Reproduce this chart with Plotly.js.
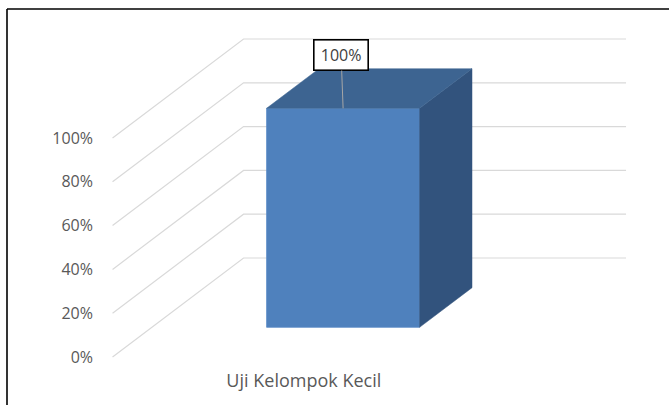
<!DOCTYPE html>
<html>
<head>
<meta charset="utf-8">
<script src="https://cdn.plot.ly/plotly-3.0.1.min.js"></script>
<style>
  html, body { margin: 0; padding: 0; background: #ffffff; }
  #chart { width: 669px; height: 405px; }
</style>
</head>
<body>
<div id="chart"></div>
<script>
// ---- data ----
const categories = ['Uji Kelompok Kecil'];
const values = [1.0];
const dataLabels = ['100%'];
const tickVals = [0, 0.2, 0.4, 0.6, 0.8, 1.0];
const tickLabels = ['0%', '20%', '40%', '60%', '80%', '100%'];

// ---- layout geometry (pixels) ----
const W = 669, H = 405;
const M = { l: 94, r: 0, t: 0, b: 37 };
const PX0 = 303.8, SX = 153;   // front-plane x of category 0, px per category unit
const PY0 = 357,   SY = 219;   // front-plane y of 0%, px per 100%
const DX = 131 / SX, DY = 99 / SY;   // full depth offset in axis units
const HALF_CAT = 1.25, HALF_BAR = 0.5, Z0 = 0.3, Z1 = 0.7;
const FONT = 'Open Sans, sans-serif';

const xRange = [(M.l - PX0) / SX, (W - M.r - PX0) / SX];
const yRange = [(PY0 - (H - M.b)) / SY, (PY0 - M.t) / SY];

function proj(x, y, z) { return [x + DX * z, y + DY * z]; }

// back wall + side wall gridlines as shapes below traces
const shapes = [];
tickVals.forEach(tv => {
  const a = proj(-HALF_CAT, tv, 0), b = proj(-HALF_CAT, tv, 1), c = proj(HALF_CAT, tv, 1);
  shapes.push({
    type: 'path', xref: 'x', yref: 'y', layer: 'below',
    path: `M ${a[0]},${a[1]} L ${b[0]},${b[1]} L ${c[0]},${c[1]}`,
    line: { color: '#d9d9d9', width: 1.2 }
  });
});

// chart frame (left and top edges visible)
const plotW = W - M.l - M.r, plotH = H - M.t - M.b;
const px2paperX = px => (px - M.l) / plotW;
const py2paperY = py => 1 - (py - M.t) / plotH;
shapes.push({ type: 'line', xref: 'paper', yref: 'paper', layer: 'above',
  x0: px2paperX(7), x1: px2paperX(680), y0: py2paperY(9), y1: py2paperY(9),
  line: { color: '#000000', width: 1.6 } });
shapes.push({ type: 'line', xref: 'paper', yref: 'paper', layer: 'above',
  x0: px2paperX(7), x1: px2paperX(7), y0: py2paperY(9), y1: py2paperY(420),
  line: { color: '#000000', width: 1.6 } });

const traces = [];
// front face: real bar
traces.push({
  type: 'bar',
  x: categories.map((c, i) => proj(i, 0, Z0)[0]),
  y: values,
  base: values.map(() => DY * Z0),
  width: 2 * HALF_BAR,
  marker: { color: '#4f81bd', line: { color: '#5b8bc6', width: 0.8 } },
  text: categories, hoverinfo: 'text', textposition: 'none',
  showlegend: false
});
// top and side faces
values.forEach((v, i) => {
  const side = [proj(i + HALF_BAR, 0, Z0), proj(i + HALF_BAR, 0, Z1), proj(i + HALF_BAR, v, Z1), proj(i + HALF_BAR, v, Z0), proj(i + HALF_BAR, 0, Z0)];
  const top = [proj(i - HALF_BAR, v, Z0), proj(i + HALF_BAR, v, Z0), proj(i + HALF_BAR, v, Z1), proj(i - HALF_BAR, v, Z1), proj(i - HALF_BAR, v, Z0)];
  traces.push({ type: 'scatter', mode: 'lines', fill: 'toself', fillcolor: '#32537d',
    x: side.map(p => p[0]), y: side.map(p => p[1]),
    line: { color: '#32537d', width: 0.5 }, hoverinfo: 'skip', showlegend: false });
  traces.push({ type: 'scatter', mode: 'lines', fill: 'toself', fillcolor: '#3d6491',
    x: top.map(p => p[0]), y: top.map(p => p[1]),
    line: { color: '#3d6491', width: 0.5 }, hoverinfo: 'skip', showlegend: false });
});

const annotations = values.map((v, i) => {
  const p = proj(i, v, Z0);
  return {
    x: p[0], y: p[1], xref: 'x', yref: 'y',
    text: dataLabels[i], showarrow: true, arrowhead: 0, arrowwidth: 1, arrowcolor: '#a6a6a6',
    ax: -2, ay: -53, standoff: 0,
    width: 46, height: 22,
    bgcolor: '#ffffff', bordercolor: '#000000', borderwidth: 1.6, borderpad: 3.5,
    font: { family: FONT, size: 16, color: '#404040' }
  };
});

const layout = {
  width: W, height: H,
  margin: M,
  paper_bgcolor: '#ffffff', plot_bgcolor: 'rgba(0,0,0,0)',
  showlegend: false,
  xaxis: {
    range: xRange, showgrid: false, zeroline: false, showline: false, ticks: '',
    tickvals: categories.map((c, i) => i), ticktext: categories,
    tickfont: { family: FONT, size: 18, color: '#595959' },
    fixedrange: true
  },
  yaxis: {
    range: yRange, showgrid: false, zeroline: false, showline: false, ticks: '',
    tickvals: tickVals, ticktext: tickLabels,
    tickfont: { family: FONT, size: 16, color: '#595959' },
    fixedrange: true
  },
  shapes: shapes,
  annotations: annotations
};

Plotly.newPlot('chart', traces, layout, { displayModeBar: false, staticPlot: true });
</script>
</body>
</html>
